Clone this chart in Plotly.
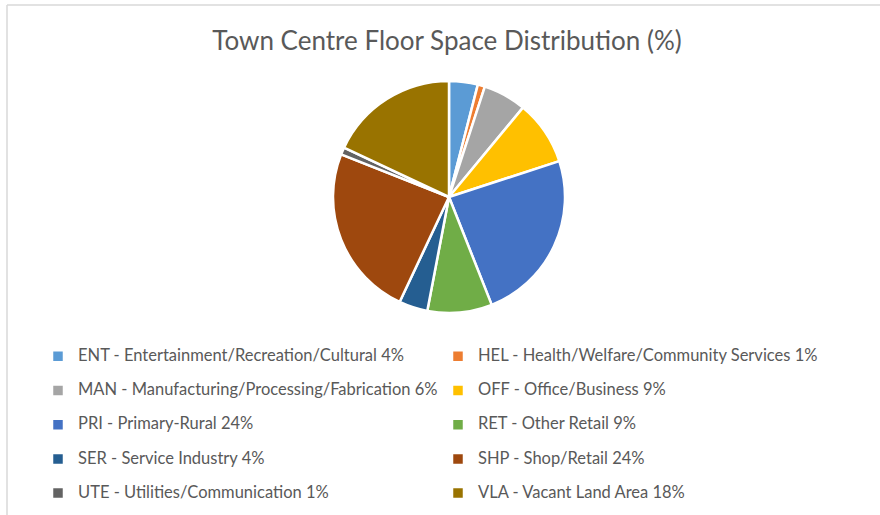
import plotly.graph_objects as go

categories = [
    "ENT - Entertainment/Recreation/Cultural",
    "HEL - Health/Welfare/Community Services",
    "MAN - Manufacturing/Processing/Fabrication",
    "OFF - Office/Business",
    "PRI - Primary-Rural",
    "RET - Other Retail",
    "SER - Service Industry",
    "SHP - Shop/Retail",
    "UTE - Utilities/Communication",
    "VLA - Vacant Land Area",
]
values = [4, 1, 6, 9, 24, 9, 4, 24, 1, 18]
colors = ["#5B9BD5", "#ED7D31", "#A5A5A5", "#FFC000", "#4472C4",
          "#70AD47", "#255E91", "#9E480E", "#636363", "#997300"]
title_text = "Town Centre Floor Space Distribution (%)"

FONT = "Lato, 'Open Sans', sans-serif"
TXT = "#595959"

legend_labels = [
    f'<span style="font-size:16.5px">{c} {v}%</span><br> '
    for c, v in zip(categories, values)
]

fig = go.Figure(go.Pie(
    labels=legend_labels,
    values=values,
    sort=False,
    direction="clockwise",
    rotation=0,
    textinfo="none",
    hoverinfo="label+value",
    marker=dict(colors=colors, line=dict(color="white", width=2.5)),
    domain=dict(x=[333 / 880, 565 / 880], y=[1 - 313 / 515, 1 - 81 / 515]),
))

fig.update_layout(
    width=880, height=515,
    margin=dict(l=0, r=0, t=0, b=0, pad=0, autoexpand=False),
    paper_bgcolor="white",
    plot_bgcolor="white",
    font=dict(family=FONT, color=TXT),
    title=dict(text=title_text, x=447 / 880, xanchor="center",
               y=1 - 41 / 515, yanchor="middle",
               font=dict(family=FONT, size=26, color=TXT)),
    showlegend=True,
    legend=dict(
        orientation="h",
        x=38 / 880, xanchor="left",
        y=1 - 342 / 515, yanchor="top",
        entrywidth=355, entrywidthmode="pixels",
        valign="top",
        font=dict(family=FONT, size=12, color=TXT),
        bgcolor="rgba(0,0,0,0)",
        traceorder="normal",
    ),
    shapes=[
        dict(type="line", xref="paper", yref="paper",
             x0=7 / 880, x1=1, y0=1 - 5 / 515, y1=1 - 5 / 515,
             line=dict(color="#D9D9D9", width=1.5)),
        dict(type="line", xref="paper", yref="paper",
             x0=7 / 880, x1=7 / 880, y0=0, y1=1 - 5 / 515,
             line=dict(color="#D9D9D9", width=1.5)),
    ],
)

fig.write_html(
    "out.html",
    config={"displayModeBar": False},
    post_script="document.body.style.margin='0';document.body.style.padding='0';",
)
